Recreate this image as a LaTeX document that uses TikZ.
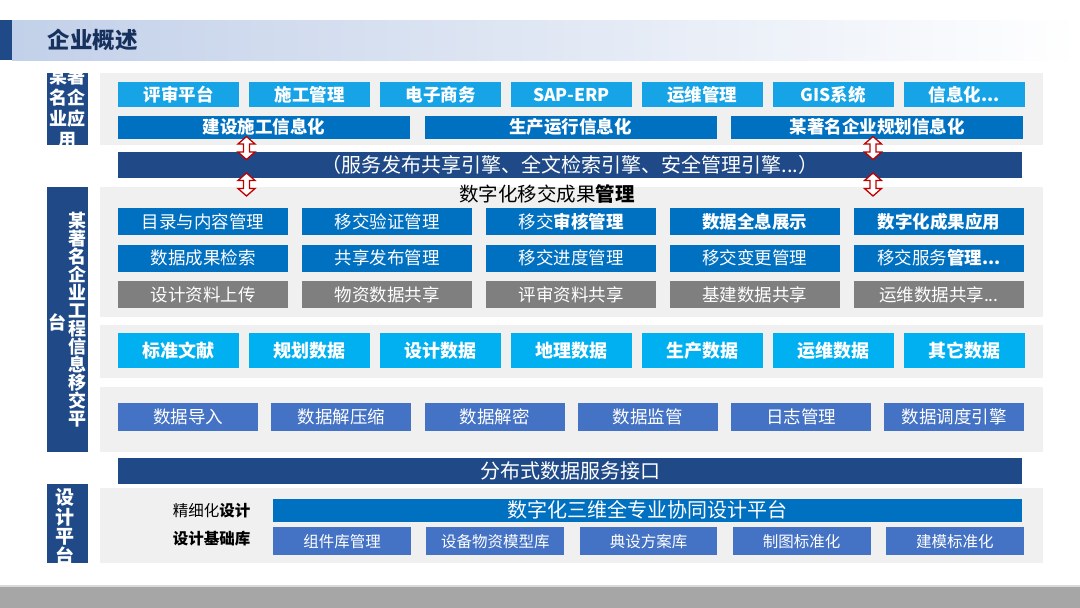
\documentclass[tikz,border=0pt]{standalone}
\usepackage{fontspec}
\setmainfont{Noto Sans CJK SC}
\usetikzlibrary{positioning}
\definecolor{cnavy}{HTML}{1F4A87}
\definecolor{cblue}{HTML}{0070C0}
\definecolor{csky}{HTML}{17A4E6}
\definecolor{ccyan}{HTML}{00B0F0}
\definecolor{cmid}{HTML}{4472C4}
\definecolor{cgray}{HTML}{7F7F7F}
\definecolor{cpanel}{HTML}{F0F0F0}
\definecolor{chead}{HTML}{C2D0E9}
\definecolor{ctitle}{HTML}{17315E}
\definecolor{cred}{HTML}{C00000}
\tikzset{
  cell/.style={rectangle, inner sep=0pt, text=white, anchor=north west},
  app/.style={cell, fill=csky, minimum width=121pt, minimum height=25pt,
    font=\fontsize{17.5}{20}\selectfont\bfseries},
  grp/.style={cell, fill=cblue, minimum width=292pt, minimum height=23pt,
    font=\fontsize{17.5}{20}\selectfont\bfseries},
  bus/.style={cell, fill=cnavy, minimum width=904pt, minimum height=26pt,
    font=\fontsize{20}{22}\selectfont},
  mgmt/.style={cell, fill=cblue, minimum width=170pt, minimum height=27pt,
    font=\fontsize{17.5}{20}\selectfont},
  share/.style={mgmt, fill=cgray},
  data/.style={cell, fill=ccyan, minimum width=121pt, minimum height=35pt,
    font=\fontsize{18}{20}\selectfont\bfseries},
  proc/.style={cell, fill=cmid, minimum width=140pt, minimum height=28pt,
    font=\fontsize{17.5}{20}\selectfont},
  base/.style={cell, fill=cmid, minimum width=137.8pt, minimum height=28pt,
    font=\fontsize{15.5}{18}\selectfont},
  sidelbl/.style={text=white, align=center, font=\bfseries},
  dblarr/.pic={
    \draw[cred, fill=white, line width=1.3pt, line join=miter]
      (0,-11.5) -- (8.5,-4) -- (3,-4) -- (3,4) -- (8.5,4) -- (0,11.5)
      -- (-8.5,4) -- (-3,4) -- (-3,-4) -- (-8.5,-4) -- cycle;
  },
}

\begin{document}
\begin{tikzpicture}[x=1pt,y=-1pt]
  % frame, header and footer
  \fill[white] (0,0) rectangle (1080,608);
  \shade[left color=chead, right color=white] (12,20) rectangle (1080,60);
  \fill[cnavy] (0,20) rectangle (12,60);
  \node[anchor=west, text=ctitle, font=\fontsize{22.5}{24}\selectfont\bfseries] (title) at (44,40) {企业概述};
  \fill[gray!30] (0,585) rectangle (1080,587);
  \fill[black!35] (0,587) rectangle (1080,608);

  % panels
  \fill[cpanel] (100,73) rectangle (1043,145);
  \fill[cpanel] (100,187) rectangle (1043,317);
  \fill[cpanel] (100,325) rectangle (1043,378);
  \fill[cpanel] (100,387) rectangle (1043,452);
  \fill[cpanel] (100,488) rectangle (1043,563);

  % side labels
  \fill[cnavy] (47,73) rectangle (88,145);
  \fill[cnavy] (47,187) rectangle (88,452);
  \fill[cnavy] (47,484) rectangle (88,563);
  \begin{scope}
    \clip (47,73) rectangle (88,145);
    \node[sidelbl, font=\fontsize{18}{21}\selectfont\bfseries] (lblapp) at (67.5,108.5) {某著\\名企\\业应\\用};
  \end{scope}
  \node[sidelbl, font=\fontsize{18}{18}\selectfont\bfseries] (lblxfer) at (77.5,320) {某\\著\\名\\企\\业\\工\\程\\信\\息\\移\\交\\平};
  \node[sidelbl, font=\fontsize{18}{18}\selectfont\bfseries] (lblxfer2) at (57,322) {台};
  \begin{scope}
    \clip (47,484) rectangle (88,563);
    \node[sidelbl, font=\fontsize{19}{19.5}\selectfont\bfseries] (lbldes) at (65.5,527) {设\\计\\平\\台};
  \end{scope}

  % enterprise applications
  \node[app] (rev) at (118,82) {评审平台};
  \node[app, right=9.5pt of rev] (cons) {施工管理};
  \node[app, right=9.5pt of cons] (ecom) {电子商务};
  \node[app, right=9.5pt of ecom] (sap) {SAP-ERP};
  \node[app, right=9.5pt of sap] (ops) {运维管理};
  \node[app, right=9.5pt of ops] (gis) {GIS系统};
  \node[app, right=9.5pt of gis] (infoapp) {信息化...};
  \node[grp] (build) at (118,115.5) {建设施工信息化};
  \node[grp, right=14pt of build] (prod) {生产运行信息化};
  \node[grp, right=14pt of prod] (plan) {某著名企业规划信息化};
  \node[bus] (svcbus) at (118,152) {（服务发布共享引擎、全文检索引擎、安全管理引擎...）};

  % transfer platform
  \node[font=\fontsize{19.5}{22}\selectfont] (xfer) at (547,194) {数字化移交成果\textbf{管理}};
  \node[mgmt] (catalog) at (118,208) {目录与内容管理};
  \node[mgmt, right=13.5pt of catalog] (verify) {移交验证管理};
  \node[mgmt, right=13.5pt of verify] (audit) {移交\textbf{审核管理}};
  \node[mgmt, right=13.5pt of audit] (holo) {\textbf{数据全息展示}};
  \node[mgmt, right=13.5pt of holo] (apply) {\textbf{数字化成果应用}};
  \node[mgmt] (search) at (118,244.5) {数据成果检索};
  \node[mgmt, right=13.5pt of search] (publish) {共享发布管理};
  \node[mgmt, right=13.5pt of publish] (progress) {移交进度管理};
  \node[mgmt, right=13.5pt of progress] (change) {移交变更管理};
  \node[mgmt, right=13.5pt of change] (service) {移交服务\textbf{管理...}};
  \node[share] (upload) at (118,281) {设计资料上传};
  \node[share, right=13.5pt of upload] (matshare) {物资数据共享};
  \node[share, right=13.5pt of matshare] (revshare) {评审资料共享};
  \node[share, right=13.5pt of revshare] (infra) {基建数据共享};
  \node[share, right=13.5pt of infra] (opsshare) {运维数据共享...};

  \node[data] (std) at (118,333) {标准文献};
  \node[data, right=9.5pt of std] (plandata) {规划数据};
  \node[data, right=9.5pt of plandata] (desdata) {设计数据};
  \node[data, right=9.5pt of desdata] (geo) {地理数据};
  \node[data, right=9.5pt of geo] (proddata) {生产数据};
  \node[data, right=9.5pt of proddata] (opsdata) {运维数据};
  \node[data, right=9.5pt of opsdata] (other) {其它数据};

  \node[proc] (import) at (118,403) {数据导入};
  \node[proc, right=12.8pt of import] (unzip) {数据解压缩};
  \node[proc, right=12.8pt of unzip] (decrypt) {数据解密};
  \node[proc, right=12.8pt of decrypt] (monitor) {数据监管};
  \node[proc, right=12.8pt of monitor] (logs) {日志管理};
  \node[proc, right=12.8pt of logs] (sched) {数据调度引擎};

  \node[bus] (dsi) at (118,457.5) {分布式数据服务接口};

  % design platform
  \node[anchor=east, font=\fontsize{15.5}{18}\selectfont] (fine) at (254,511) {精细化\textbf{设计}};
  \node[anchor=east, font=\fontsize{15.5}{18}\selectfont\bfseries] (basis) at (254,539) {设计基础库};
  \node[cell, fill=cblue, minimum width=749pt, minimum height=23pt,
    font=\fontsize{20}{22}\selectfont] (cdp) at (273,498.5) {数字化三维全专业协同设计平台};
  \node[base] (comp) at (273,527) {组件库管理};
  \node[base, right=15pt of comp] (equip) {设备物资模型库};
  \node[base, right=15pt of equip] (scheme) {典设方案库};
  \node[base, right=15pt of scheme] (drawstd) {制图标准化};
  \node[base, right=15pt of drawstd] (model) {建模标准化};

  % exchange arrows
  \pic (arrbl) at (246.5,148) {dblarr};
  \pic (arrbr) at (873,148) {dblarr};
  \pic (arrtl) at (246.5,184.5) {dblarr};
  \pic (arrtr) at (873,184.5) {dblarr};
\end{tikzpicture}
\end{document}
